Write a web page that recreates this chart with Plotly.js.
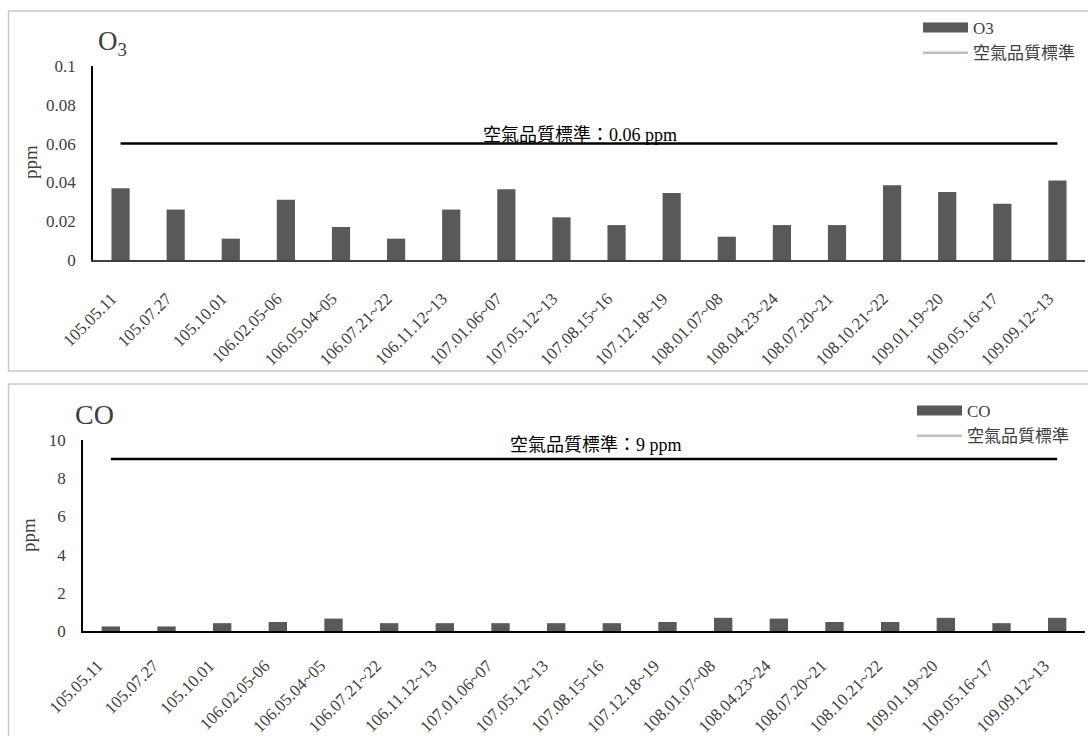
<!DOCTYPE html>
<html>
<head>
<meta charset="utf-8">
<script src="https://cdn.plot.ly/plotly-3.0.1.min.js"></script>
<style>
  html, body { margin: 0; padding: 0; background: #ffffff; }
  #chart { width: 1088px; height: 736px; }
</style>
</head>
<body>
<div id="chart"></div>
<script>
// ---- Data ----
const categories = [
  "105.05.11", "105.07.27", "105.10.01", "106.02.05-06", "106.05.04~05", "106.07.21~22",
  "106.11.12~13", "107.01.06~07", "107.05.12~13", "107.08.15~16", "107.12.18~19", "108.01.07~08",
  "108.04.23~24", "108.07.20~21", "108.10.21~22", "109.01.19~20", "109.05.16~17", "109.09.12~13"
];
const o3Values = [0.037, 0.026, 0.011, 0.031, 0.017, 0.011, 0.026, 0.0365, 0.022, 0.018,
                  0.0345, 0.012, 0.018, 0.018, 0.0385, 0.035, 0.029, 0.041];
const coValues = [0.24, 0.24, 0.41, 0.47, 0.65, 0.41, 0.41, 0.41, 0.41, 0.41,
                  0.47, 0.69, 0.65, 0.47, 0.47, 0.69, 0.41, 0.69];
const o3Standard = 0.06;
const coStandard = 9;
const o3Name = "O3";
const coName = "CO";
const stdName = "空氣品質標準";
const yTitle = "ppm";

// ---- Styles ----
const W = 1088, H = 736;
const px = v => v / W;
const py = v => 1 - v / H;
const SERIF = "Liberation Serif, Noto Sans CJK TC, serif";
const TXT = "#404040";
const BAR = "#595959";
const STDLEG = "#bfbfbf";

const first = categories[0], last = categories[categories.length - 1];

const traces = [
  // top chart
  { type: "bar", x: categories, y: o3Values, xaxis: "x", yaxis: "y",
    marker: { color: BAR }, showlegend: false, name: o3Name, hoverinfo: "x+y" },
  { type: "scatter", mode: "lines", x: [first, last], y: [o3Standard, o3Standard],
    xaxis: "x", yaxis: "y", line: { color: "#000000", width: 2.5 }, showlegend: false, name: stdName },
  { type: "scatter", mode: "lines", x: [null], y: [null], xaxis: "x", yaxis: "y",
    name: o3Name, legend: "legend", line: { color: BAR, width: 11 } },
  { type: "scatter", mode: "lines", x: [null], y: [null], xaxis: "x", yaxis: "y",
    name: stdName, legend: "legend", line: { color: STDLEG, width: 2.5 } },
  // bottom chart
  { type: "bar", x: categories, y: coValues, xaxis: "x2", yaxis: "y2",
    marker: { color: BAR }, showlegend: false, name: coName, hoverinfo: "x+y" },
  { type: "scatter", mode: "lines", x: [first, last], y: [coStandard, coStandard],
    xaxis: "x2", yaxis: "y2", line: { color: "#000000", width: 2.5 }, showlegend: false, name: stdName },
  { type: "scatter", mode: "lines", x: [null], y: [null], xaxis: "x2", yaxis: "y2",
    name: coName, legend: "legend2", line: { color: BAR, width: 11 } },
  { type: "scatter", mode: "lines", x: [null], y: [null], xaxis: "x2", yaxis: "y2",
    name: stdName, legend: "legend2", line: { color: STDLEG, width: 2.5 } }
];

const xCommon = {
  type: "category", tickangle: -45, ticks: "", showgrid: false, zeroline: false,
  showline: true, tickfont: { family: SERIF, size: 17, color: TXT },
  range: [-0.5, categories.length - 0.5], fixedrange: true
};
const yCommon = {
  showgrid: false, zeroline: false, showline: true, linecolor: "#000000", linewidth: 1.5,
  ticks: "", tickfont: { family: SERIF, size: 17, color: TXT }, fixedrange: true
};

const legendCommon = {
  orientation: "v", xanchor: "left", yanchor: "top", bgcolor: "rgba(0,0,0,0)",
  font: { family: SERIF, size: 17, color: TXT }, itemwidth: 45, tracegroupgap: 0
};

const layout = {
  width: W, height: H,
  margin: { l: 0, r: 0, t: 0, b: 0 },
  paper_bgcolor: "#ffffff", plot_bgcolor: "rgba(0,0,0,0)",
  bargap: 0.67,
  xaxis: Object.assign({}, xCommon, { domain: [px(93), px(1085)], anchor: "y",
    linecolor: "#404040", linewidth: 2, ticklabelstandoff: 20, ticklabelshift: -9 }),
  yaxis: Object.assign({}, yCommon, { domain: [py(260), py(66)], anchor: "x",
    range: [0, 0.1], dtick: 0.02, ticklabelstandoff: 12 }),
  xaxis2: Object.assign({}, xCommon, { domain: [px(83), px(1085)], anchor: "y2",
    linecolor: "#000000", linewidth: 2, ticklabelstandoff: 16, ticklabelshift: -13 }),
  yaxis2: Object.assign({}, yCommon, { domain: [py(631), py(440)], anchor: "x2",
    range: [0, 10], dtick: 2, ticklabelstandoff: 12 }),
  legend: Object.assign({}, legendCommon, { x: px(918), y: py(10) }),
  legend2: Object.assign({}, legendCommon, { x: px(912), y: py(393) }),
  shapes: [
    { type: "rect", xref: "paper", yref: "paper", x0: px(8.5), x1: px(1095), y0: py(371), y1: py(11),
      line: { color: "#c8c8c8", width: 1.5 }, layer: "below" },
    { type: "rect", xref: "paper", yref: "paper", x0: px(8.5), x1: px(1095), y0: py(760), y1: py(384),
      line: { color: "#c8c8c8", width: 1.5 }, layer: "below" }
  ],
  annotations: [
    { xref: "paper", yref: "paper", x: px(96), y: py(24), xanchor: "left", yanchor: "top",
      text: "O<sub>3</sub>", showarrow: false, font: { family: SERIF, size: 27, color: TXT } },
    { xref: "paper", yref: "paper", x: px(73), y: py(397), xanchor: "left", yanchor: "top",
      text: coName, showarrow: false, font: { family: SERIF, size: 28, color: TXT } },
    { xref: "paper", yref: "paper", x: px(30), y: py(162), xanchor: "center", yanchor: "middle",
      text: yTitle, textangle: -90, showarrow: false, font: { family: SERIF, size: 19, color: TXT } },
    { xref: "paper", yref: "paper", x: px(28), y: py(535), xanchor: "center", yanchor: "middle",
      text: yTitle, textangle: -90, showarrow: false, font: { family: SERIF, size: 19, color: TXT } },
    { xref: "paper", yref: "y", x: px(580), y: o3Standard, xanchor: "center", yanchor: "bottom",
      yshift: -3, text: stdName + "：" + o3Standard + " ppm", showarrow: false,
      font: { family: SERIF, size: 18, color: "#000000" } },
    { xref: "paper", yref: "y2", x: px(596), y: coStandard, xanchor: "center", yanchor: "bottom",
      yshift: 2, text: stdName + "：" + coStandard + " ppm", showarrow: false,
      font: { family: SERIF, size: 18, color: "#000000" } }
  ]
};

Plotly.newPlot("chart", traces, layout, { displayModeBar: false, responsive: false });
</script>
</body>
</html>
